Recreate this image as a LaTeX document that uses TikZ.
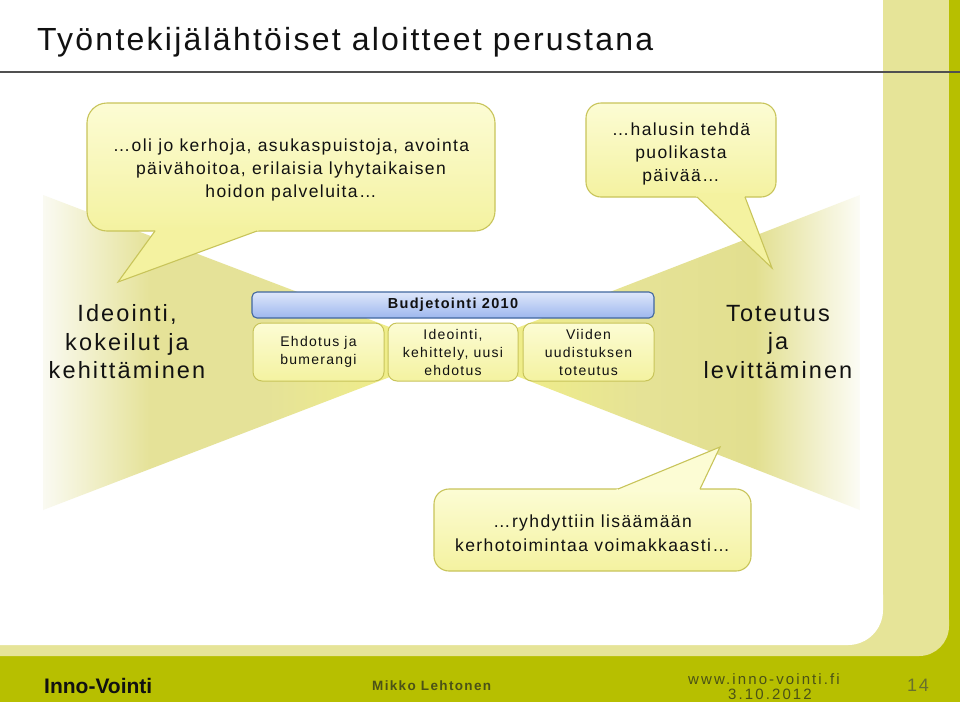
\documentclass[tikz,border=0pt]{standalone}
\usepackage{fontspec}
\setmainfont{Liberation Sans}
\newfontfamily\spfont[LetterSpace=9]{Liberation Sans}
\newfontfamily\bubfont[LetterSpace=8]{Liberation Sans}
\newfontfamily\titlefont[LetterSpace=7]{Liberation Sans}
\newfontfamily\wideboldfont[LetterSpace=10]{Liberation Sans}
\newfontfamily\footfont[LetterSpace=14]{Liberation Sans}
\usetikzlibrary{calc}
\definecolor{olivedark}{RGB}{183,191,0}
\definecolor{olivelight}{RGB}{230,228,152}
\definecolor{bubtop}{RGB}{252,252,212}
\definecolor{bubbot}{RGB}{244,242,160}
\definecolor{bubline}{RGB}{200,196,90}
\definecolor{bartop}{RGB}{222,231,250}
\definecolor{barbot}{RGB}{157,183,238}
\definecolor{barline}{RGB}{65,103,159}
\definecolor{rulecol}{RGB}{80,80,80}
\definecolor{txt}{RGB}{17,17,17}
\definecolor{foottext}{RGB}{75,82,22}
\definecolor{pagenum}{RGB}{105,113,45}
\definecolor{lbA}{RGB}{250,250,242}
\definecolor{lbB}{RGB}{229,226,152}
\definecolor{lbD}{RGB}{245,243,130}
\definecolor{rbB}{RGB}{229,226,150}
\definecolor{rbC}{RGB}{226,223,143}
\definecolor{rbD}{RGB}{252,252,246}
\pgfdeclarehorizontalshading{leftbeam}{100bp}{color(0bp)=(lbA); color(25bp)=(lbA); color(38bp)=(lbB); color(52bp)=(lbB); color(75bp)=(lbD); color(100bp)=(lbD)}
\pgfdeclarehorizontalshading{rightbeam}{100bp}{color(0bp)=(lbD); color(25bp)=(lbD); color(48bp)=(rbB); color(62bp)=(rbC); color(75bp)=(rbD); color(100bp)=(rbD)}
\begin{document}
\begin{tikzpicture}[x=1pt,y=-1pt,
  bubble/.style={draw=bubline, line width=1.1pt, top color=bubtop, bottom color=bubbot, inner sep=0pt},
  bubtext/.style={align=center, inner sep=0pt, text=txt, font=\bubfont\fontsize{17.5}{23}\selectfont},
  stagebox/.style={draw=bubline, line width=1pt, rounded corners=9pt, top color=bubtop,
    bottom color=bubbot, minimum width=130pt, minimum height=58pt, align=center,
    inner sep=0pt, text=txt, font=\spfont\fontsize{14}{18}\selectfont},
  barbox/.style={draw=barline, line width=1.1pt, rounded corners=5pt, top color=bartop,
    bottom color=barbot, minimum width=402pt, minimum height=26pt, inner sep=0pt,
    text=txt, font=\spfont\bfseries\fontsize{14.5}{17}\selectfont},
  biglabel/.style={align=center, text=txt, font=\spfont\fontsize{23.5}{28.5}\selectfont},
  tailfill/.style={fill=#1, draw=none},
  tailline/.style={draw=bubline, line width=1.1pt, line join=miter}
]
\useasboundingbox (0,0) rectangle (960,702);
% background
\fill[olivedark] (0,0) rectangle (960,702);
\fill[olivelight] (-50,-50) rectangle (949,620);
\fill[olivelight, rounded corners=30pt] (-80,590) rectangle (949,656);
\fill[white] (-50,-50) rectangle (883,600);
\fill[white, rounded corners=35pt] (-80,560) rectangle (883,645);
% title
\node[anchor=base west, text=txt, font=\titlefont\fontsize{32}{36}\selectfont, inner sep=0pt] (title) at (37,50) {Työntekijälähtöiset aloitteet perustana};
\coordinate (ruleL) at (0,72);
\coordinate (ruleR) at (960,72);
\draw[rulecol, line width=1.3pt] (ruleL) -- (ruleR);
% beams
\coordinate (apex) at (455,352);
\shade[shading=leftbeam] (43,195) -- (apex) -- (43,510) -- cycle;
\shade[shading=rightbeam] (860,195) -- (apex) -- (860,510) -- cycle;
% big labels
\node[biglabel] (left) at (127,342) {Ideointi,\\kokeilut ja\\kehittäminen};
\node[biglabel] (right) at (778,342) {Toteutus\\ja\\levittäminen};
% bubble 1
\node[bubble, rounded corners=20pt, minimum width=408pt, minimum height=128pt] (b1) at (291,167) {};
\coordinate (b1l) at (155,231); \coordinate (b1t) at (118,282); \coordinate (b1r) at (257,231);
\fill[tailfill=bubbot] ($(b1t)!1.06!(b1l)$) -- (b1t) -- ($(b1t)!1.06!(b1r)$) -- cycle;
\draw[tailline] (b1l) -- (b1t) -- (b1r);
\node[bubtext] (b1txt) at ($(b1.center)+(0,2.5)$)
  {…oli jo kerhoja, asukaspuistoja, avointa\\päivähoitoa, erilaisia lyhytaikaisen\\hoidon palveluita…};
% bubble 2
\node[bubble, rounded corners=15pt, minimum width=190pt, minimum height=94pt] (b2) at (681,150) {};
\coordinate (b2l) at (697,197); \coordinate (b2t) at (772,268); \coordinate (b2r) at (745,197);
\fill[tailfill=bubbot] ($(b2t)!1.05!(b2l)$) -- (b2t) -- ($(b2t)!1.05!(b2r)$) -- cycle;
\draw[tailline] (b2l) -- (b2t) -- (b2r);
\node[bubtext] (b2txt) at ($(b2.center)+(0,4)$) {…halusin tehdä\\puolikasta\\päivää…};
% bubble 3
\node[bubble, rounded corners=15pt, minimum width=317pt, minimum height=82pt] (b3) at (592.5,530) {};
\coordinate (b3l) at (618,489); \coordinate (b3t) at (720,447); \coordinate (b3r) at (700,489);
\fill[tailfill=bubtop] ($(b3t)!1.07!(b3l)$) -- (b3t) -- ($(b3t)!1.07!(b3r)$) -- cycle;
\draw[tailline] (b3l) -- (b3t) -- (b3r);
\node[bubtext, font=\bubfont\fontsize{17.5}{24.5}\selectfont] (b3txt) at ($(b3.center)+(0,3)$)
  {…ryhdyttiin lisäämään\\kerhotoimintaa voimakkaasti…};
% budget bar and stages
\node[barbox] (bar) at (453,305) {Budjetointi 2010};
\node[stagebox, minimum width=131pt] (s1) at (318.5,352) {Ehdotus ja\\bumerangi};
\node[stagebox] (s2) at (453,352) {Ideointi,\\kehittely, uusi\\ehdotus};
\node[stagebox, minimum width=131pt] (s3) at (588.5,352) {Viiden\\uudistuksen\\toteutus};
% footer
\node[anchor=base west, inner sep=0pt, text=txt, font=\bfseries\fontsize{21}{24}\selectfont] (brand) at (44,693) {Inno-Vointi};
\node[anchor=base west, inner sep=0pt, text=foottext, font=\wideboldfont\bfseries\fontsize{13.5}{16}\selectfont] (author) at (372,690) {Mikko Lehtonen};
\node[inner sep=0pt, text=foottext, font=\footfont\fontsize{15}{17}\selectfont] (web) at (764,679) {www.inno-vointi.fi};
\node[inner sep=0pt, text=foottext, font=\footfont\fontsize{15}{17}\selectfont] (date) at (770,694.5) {3.10.2012};
\node[inner sep=0pt, text=pagenum, font=\spfont\fontsize{18}{20}\selectfont] (page) at (918,685) {14};
\end{tikzpicture}
\end{document}
